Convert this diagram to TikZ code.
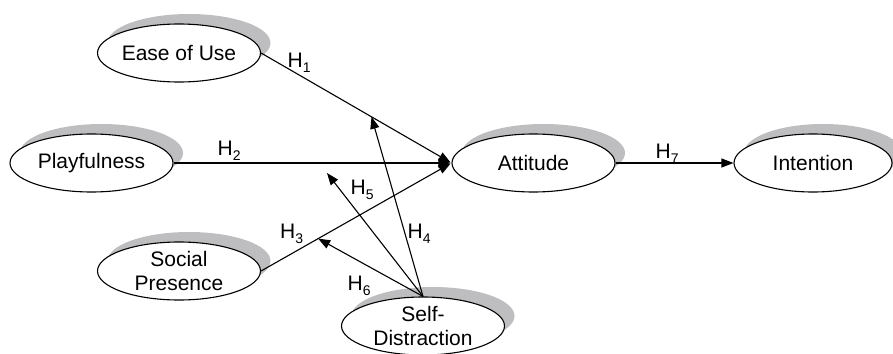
\documentclass[tikz,border=0pt]{standalone}
\usepackage{fontspec}
\setmainfont{Liberation Sans}
\usetikzlibrary{shapes.geometric,shadows,arrows.meta,calc}
\definecolor{shadowgray}{RGB}{190,190,192}
\newcommand{\hlab}[1]{H\raisebox{-5pt}{\fontsize{14}{14}\selectfont #1}}
\begin{document}
\begin{tikzpicture}[x=1pt,y=-1pt,
  construct/.style={ellipse, draw, fill=white, line width=1.1pt,
    minimum width=163pt, minimum height=58pt, inner sep=-12pt, align=center,
    font=\fontsize{21}{24}\selectfont,
    general shadow={fill=shadowgray, shadow xshift=10pt, shadow yshift=10pt}},
  link/.style={line width=1.1pt, -{Triangle[length=12pt,width=9pt]}},
  hlabel/.style={anchor=base west, inner sep=0pt, font=\fontsize{21}{24}\selectfont}]
\useasboundingbox (0,0) rectangle (893,353);
\node[construct] (ease) at (179,53) {Ease of Use};
\node[construct] (play) at (91.5,163) {Playfulness};
\node[construct] (sp) at (179,271) {Social\\Presence};
\node[construct] (att) at (533.5,163) {Attitude};
\node[construct, minimum width=158pt] (int) at (813,163) {Intention};
\node[construct] (sd) at (423,326) {Self-\\Distraction};
\draw[link, shorten >=1pt] (ease.east) -- (att.west);
\draw[link, shorten >=1pt] (play) -- (att.west);
\draw[link, shorten >=1pt] (sp.east) -- (att.west);
\draw[link] (att) -- (int);
\coordinate (t4) at ($(ease.east)!0.58!(att.west)$);
\coordinate (t6) at ($(sp.east)!0.3!(att.west)$);
\coordinate (t5) at (327,173);
\draw[link] (sd.north) -- (t4);
\draw[link] (sd.north) -- (t5);
\draw[link] (sd.north) -- (t6);
\node[hlabel] (l1) at (287.5,67) {\hlab{1}};
\node[hlabel] (l2) at (217.5,155) {\hlab{2}};
\node[hlabel] (l3) at (280,238) {\hlab{3}};
\node[hlabel] (l4) at (407.5,238) {\hlab{4}};
\node[hlabel] (l5) at (350.5,194) {\hlab{5}};
\node[hlabel] (l6) at (347.5,290) {\hlab{6}};
\node[hlabel] (l7) at (655.5,158) {\hlab{7}};
\end{tikzpicture}
\end{document}
